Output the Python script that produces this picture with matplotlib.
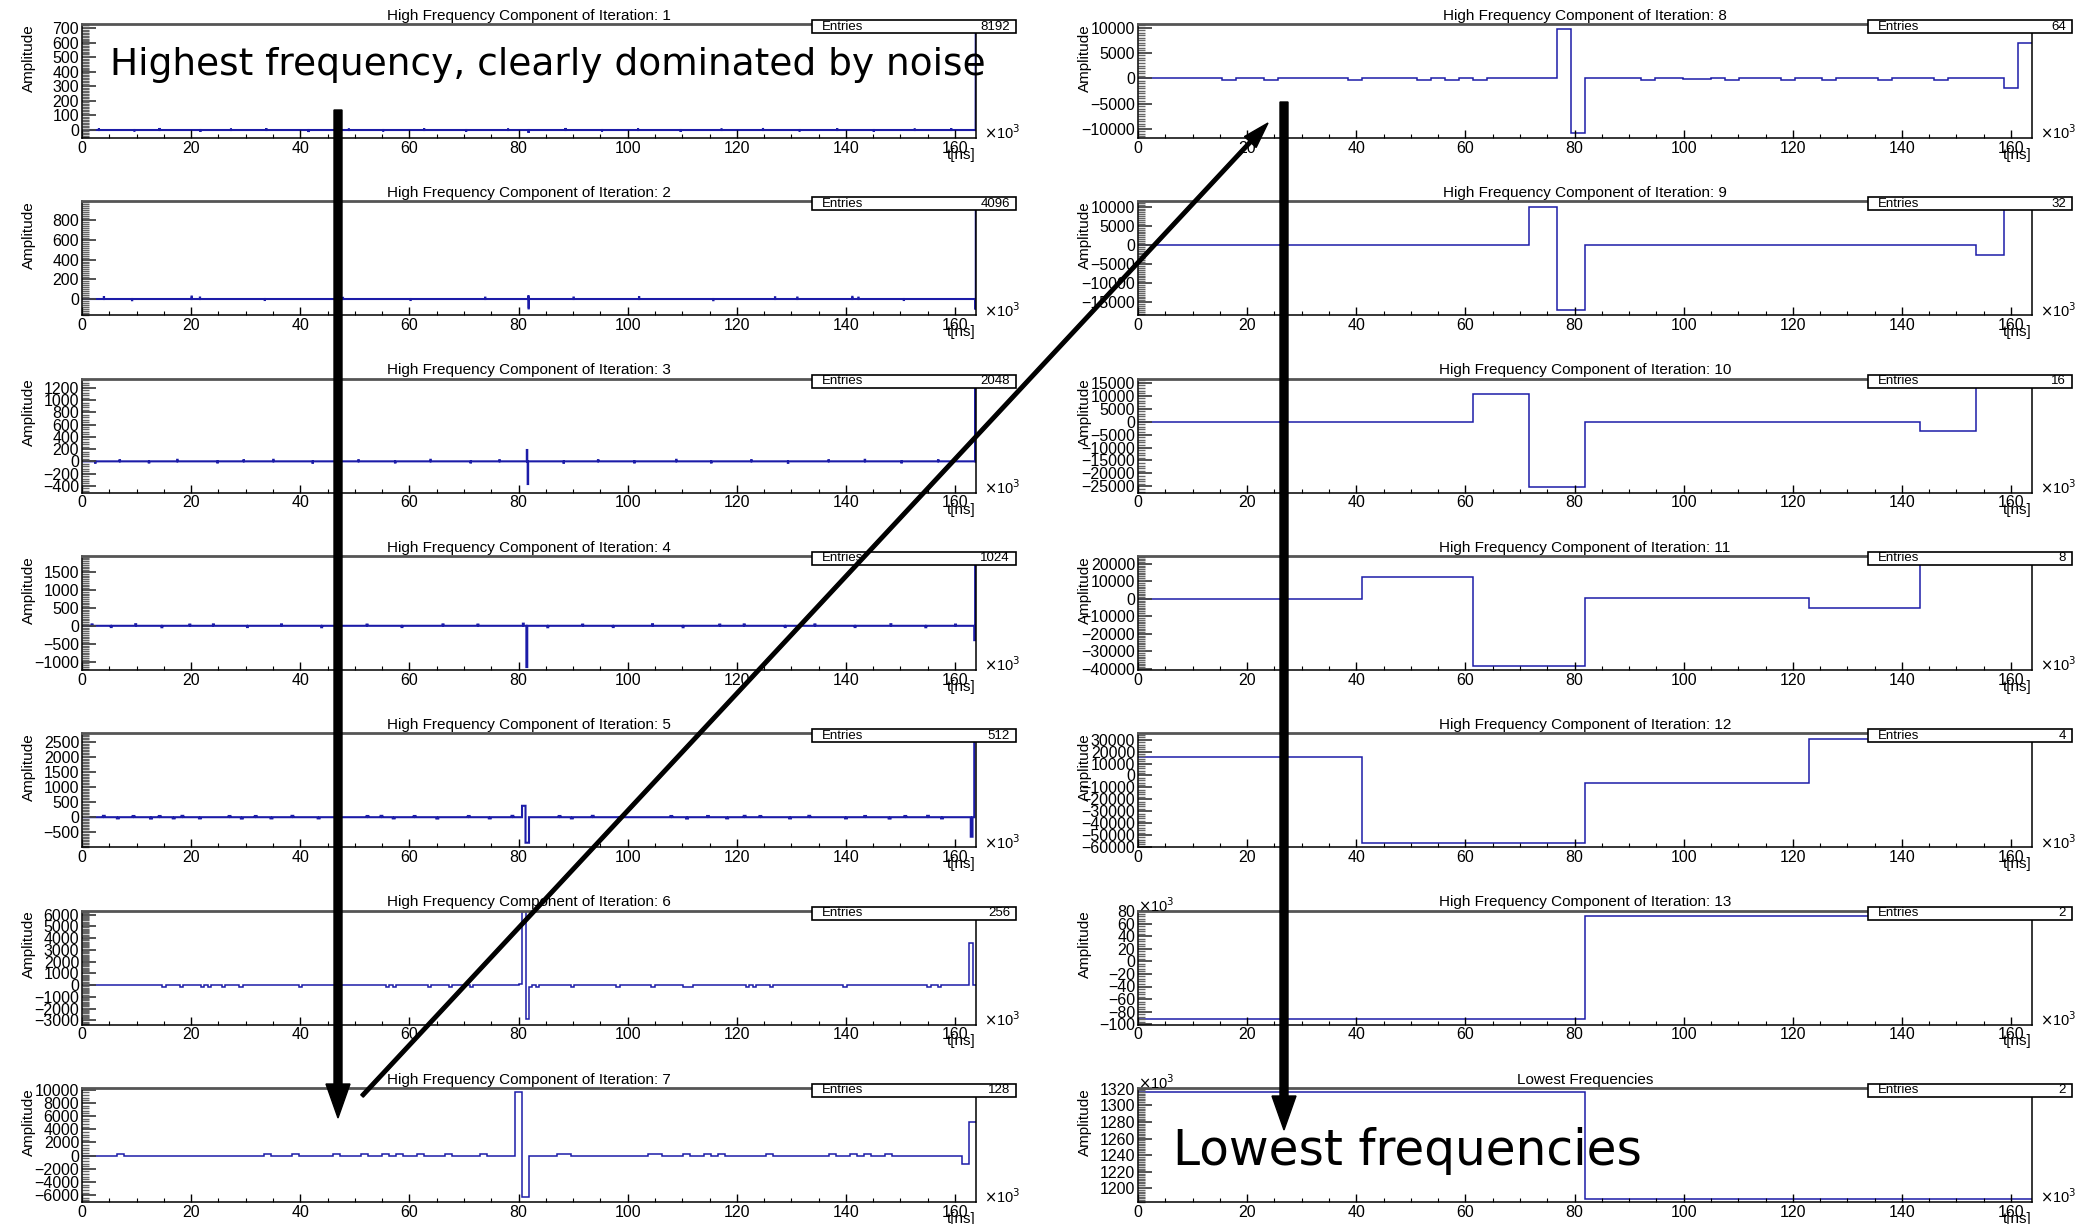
import numpy as np
import matplotlib
matplotlib.use('Agg')
import matplotlib.pyplot as plt
from matplotlib.ticker import FixedLocator, AutoMinorLocator
from matplotlib.patches import Rectangle, FancyArrow

plt.rcParams['font.family'] = ['Liberation Sans', 'DejaVu Sans']

T_MAX = 163.84  # t axis end, in units of 10^3 ns

# ---- panel data ----
titles = ['High Frequency Component of Iteration: %d' % i for i in range(1, 14)] + ['Lowest Frequencies']
entries = [8192, 4096, 2048, 1024, 512, 256, 128, 64, 32, 16, 8, 4, 2, 2]

# y tick labels per panel
yticks = [
    [0, 100, 200, 300, 400, 500, 600, 700],
    [0, 200, 400, 600, 800],
    [-400, -200, 0, 200, 400, 600, 800, 1000, 1200],
    [-1000, -500, 0, 500, 1000, 1500],
    [-500, 0, 500, 1000, 1500, 2000, 2500],
    [-3000, -2000, -1000, 0, 1000, 2000, 3000, 4000, 5000, 6000],
    [-6000, -4000, -2000, 0, 2000, 4000, 6000, 8000, 10000],
    [-10000, -5000, 0, 5000, 10000],
    [-15000, -10000, -5000, 0, 5000, 10000],
    [-25000, -20000, -15000, -10000, -5000, 0, 5000, 10000, 15000],
    [-40000, -30000, -20000, -10000, 0, 10000, 20000],
    [-60000, -50000, -40000, -30000, -20000, -10000, 0, 10000, 20000, 30000],
    [-100, -80, -60, -40, -20, 0, 20, 40, 60, 80],
    [1200, 1220, 1240, 1260, 1280, 1300, 1320],
]
yranges = [
    (-55, 730), (-165, 990), (-510, 1350), (-1230, 1950), (-1000, 2800),
    (-3340, 6340), (-7000, 10300), (-11800, 10700), (-18400, 11400),
    (-27400, 16600), (-40600, 24600), (-60300, 35500), (-100.5, 81), (1184, 1321),
]
yminor = [10, 10, 5, 10, 10, 10, 5, 10, 10, 5, 10, 5, 5, 10]

# sparse bin contents: (t position in 10^3 ns, value); all other bins ~ 0
p1_t = [3.1, 9.6, 14.2, 21.7, 27.3, 33.8, 41.5, 48.9, 55.2, 62.7, 70.4, 78.1, 81.85,
        88.6, 95.3, 101.9, 109.7, 117.2, 124.8, 131.5, 138.4, 145.1, 152.6, 159.3, 163.80, 163.82]
p1_v = [12, -10, 14, -12, 10, 12, -14, 10, -10, 12, -12, 10, -20,
        14, -10, 12, -12, 10, 14, -10, 12, -12, 10, 12, -30, 720]
p2_t = [4.0, 9.2, 20.1, 21.6, 33.5, 47.8, 60.2, 73.9, 81.80, 81.84, 90.1, 102.1,
        115.7, 127.0, 131.1, 141.2, 142.3, 150.6, 163.76, 163.80]
p2_v = [20, -12, 25, 15, -10, 12, -10, 14, 30, -95, 15, 20,
        -12, 18, 15, 22, 14, -10, -100, 950]
p3_t = [2.4, 6.9, 12.3, 17.5, 24.8, 29.6, 35.1, 42.3, 50.7, 57.4, 63.9, 71.2, 76.5,
        81.60, 81.68, 88.3, 94.6, 101.2, 108.9, 115.3, 122.7, 129.4, 136.8, 143.5,
        150.2, 156.9, 163.68, 163.76]
p3_v = [-25, 20, -20, 25, -20, 20, 25, -25, 20, -20, 25, -20, 20,
        185, -370, -25, 20, -20, 25, -20, 20, -25, 20, 25,
        -20, 20, -220, 1250]
p4_t = [1.9, 5.3, 9.8, 14.6, 19.7, 24.1, 30.3, 36.6, 43.9, 52.2, 58.7, 66.1, 72.5,
        80.90, 81.44, 81.60, 85.4, 91.8, 97.3, 104.6, 110.2, 116.9, 121.4, 128.8,
        134.3, 141.7, 148.2, 154.6, 160.1, 163.52, 163.68]
p4_v = [40, -35, 45, -40, 35, 40, -35, 40, -40, 35, -35, 40, 35,
        60, 950, -1150, -40, 35, -35, 45, -40, 35, 40, -35,
        40, -35, 45, -40, 35, -400, 1800]
p5_t = [4.0, 6.4, 9.4, 12.5, 14.3, 16.7, 18.5, 21.5, 27.0, 29.4, 31.8, 34.8, 38.5,
        43.3, 52.4, 54.8, 57.2, 60.8, 65.0, 71.0, 74.7, 79.0, 80.7, 81.0, 81.35, 81.65,
        87.4, 89.8, 93.5, 98.3, 108.0, 111.0, 114.6, 118.3, 121.3, 124.3, 129.7,
        133.4, 140.0, 143.6, 147.9, 151.0, 155.0, 157.5, 163.20, 163.52]
p5_v = [45, -40, 40, -45, 40, -40, 45, -40, 40, -45, 40, -40, 45,
        -40, 40, 45, -40, 40, -45, 40, -40, 45, 380, 380, -850, -850,
        40, -40, 45, -40, 40, -45, 40, -40, 45, 40, -40,
        45, -40, 40, -45, 40, 45, -40, -650, 2600]
p6_t = [14.72, 18.0, 22.1, 23.3, 25.9, 29.1, 39.9, 55.9, 57.1, 63.6, 67.3, 71.1, 80.0,
        80.64, 81.28, 82.3, 83.7, 89.6, 98.0, 104.6, 110.1, 110.8, 111.4, 122.0, 123.0,
        126.2, 140.0, 155.4, 156.8, 162.56, 163.20]
p6_v = [-150, -150, -150, -150, -150, -150, -150, -150, -150, -150, -150, -150, 100,
        6300, -2900, -150, -150, -150, -150, -150, -150, -150, -150, -150, -150,
        -150, -150, -150, -150, -1000, 3600]
p7_t = [6.5, 33.5, 38.5, 46.5, 51.3, 55.1, 58.4, 62.6, 67.8, 74.1, 79.4, 80.7,
        87.1, 88.4, 104.5, 105.7, 111.0, 114.6, 117.0, 126.1, 137.6, 141.8, 144.3,
        147.9, 161.3, 162.6]
p7_v = [200, 200, 200, 200, 200, 200, 200, 200, 200, 200, 9600, -6300,
        200, 200, 200, 200, 200, 200, 200, 200, 200, 200, 200,
        200, -1250, 5100]
p8_t = [15.4, 23.1, 38.5, 51.3, 56.4, 61.5, 76.9, 79.4, 92.2, 99.9, 102.5, 107.6,
        117.8, 125.5, 135.7, 146.0, 158.8, 161.3]
p8_v = [-300, -300, -300, -300, -300, -300, 9700, -10900, -300, -150, -150, -300,
        -300, -300, -300, -300, -2000, 7000]
# coarse panels: every bin listed
p9_v = [0] * 14 + [10000, -16900] + [0] * 14 + [-2700, 10800]
p10_v = [0, 0, 0, 0, 0, 0, 10800, -25300, 0, 0, 0, 0, 0, 0, -3700, 15800]
p11_v = [0, 0, 12800, -38600, 800, 800, -5200, 23400]
p12_v = [15500, -56800, -6400, 30900]
p13_v = [-92.5, 71.6]       # x10^3
p14_v = [1316, 1187]        # x10^3

sparse = [(p1_t, p1_v), (p2_t, p2_v), (p3_t, p3_v), (p4_t, p4_v),
          (p5_t, p5_v), (p6_t, p6_v), (p7_t, p7_v), (p8_t, p8_v)]
full = [p9_v, p10_v, p11_v, p12_v, p13_v, p14_v]


def bin_contents(k):
    n = entries[k]
    if k < len(sparse):
        vals = np.zeros(n)
        w = T_MAX / n
        for t, v in zip(*sparse[k]):
            vals[min(int(t / w), n - 1)] = v
        return vals
    return np.array(full[k - len(sparse)], dtype=float)


# ---- layout (pixels) ----
W, H = 2080, 1224
fig = plt.figure(figsize=(W / 100, H / 100), dpi=100)
col_x = [82, 1138]
ax_w, ax_h = 894, 114
row_top0, row_step = 24, 177.3
line_col = '#1c1ca8'

for k in range(14):
    col, row = divmod(k, 7)
    x0 = col_x[col]
    top = row_top0 + row * row_step
    ax = fig.add_axes([x0 / W, 1 - (top + ax_h) / H, ax_w / W, ax_h / H])
    vals = bin_contents(k)
    edges = np.linspace(0, T_MAX, len(vals) + 1)
    ax.stairs(vals, edges, color=line_col, lw=1.5 if k < 5 else 1.1, baseline=None)
    ax.set_xlim(0, T_MAX)
    ax.set_ylim(*yranges[k])

    ax.xaxis.set_major_locator(FixedLocator([0, 20, 40, 60, 80, 100, 120, 140, 160]))
    ax.xaxis.set_minor_locator(AutoMinorLocator(4))
    ax.yaxis.set_major_locator(FixedLocator(yticks[k]))
    ax.yaxis.set_minor_locator(AutoMinorLocator(yminor[k]))
    ax.tick_params(axis='x', which='major', direction='in', length=6, width=1,
                   labelsize=11.5, pad=2, top=False)
    ax.tick_params(axis='x', which='minor', direction='in', length=3, width=0.8, top=False)
    ax.tick_params(axis='y', which='major', direction='in', length=10, width=1.3,
                   color='#444444', labelsize=11.5, pad=2, right=False)
    ax.tick_params(axis='y', which='minor', direction='in', length=5, width=1.0,
                   color='#666666', right=False)
    for s in ('left', 'bottom', 'right'):
        ax.spines[s].set_color('black')
        ax.spines[s].set_linewidth(1.1)
    ax.spines['top'].set_color('#555555')
    ax.spines['top'].set_linewidth(2)

    ax.set_ylabel('Amplitude', loc='top', fontsize=11)
    ax.yaxis.set_label_coords(-46 / ax_w, 1.0)
    ax.set_title(titles[k], fontsize=11, pad=3)
    ax.text(1.0, -17 / ax_h, 't[ns]', transform=ax.transAxes, ha='right', va='center', fontsize=11)
    ax.text(1.0 + 8 / ax_w, 5 / ax_h, r'$\times$10$^3$', transform=ax.transAxes,
            ha='left', va='center', fontsize=10.5)
    if k >= 12:
        ax.text(0.0, 1.0 + 5 / ax_h, r'$\times$10$^3$', transform=ax.transAxes,
                ha='left', va='center', fontsize=10.5)

# ---- overlay: stat boxes, annotations, arrows (pixel coords) ----
ov = fig.add_axes([0, 0, 1, 1])
ov.set_xlim(0, W)
ov.set_ylim(H, 0)
ov.axis('off')
ov.set_zorder(10)
ov.patch.set_visible(False)

for k in range(14):
    col, row = divmod(k, 7)
    x0 = col_x[col]
    top = row_top0 + row * row_step
    bx0, bx1, by0, by1 = x0 + 730, x0 + 934, top - 4, top + 9
    ov.add_patch(Rectangle((bx0, by0), bx1 - bx0, by1 - by0, facecolor='white',
                           edgecolor='black', lw=1.2))
    ov.text(bx0 + 10, (by0 + by1) / 2, 'Entries', ha='left', va='center', fontsize=9.5)
    ov.text(bx1 - 6, (by0 + by1) / 2, str(entries[k]), ha='right', va='center', fontsize=9.5)

ov.text(110, 65, 'Highest frequency, clearly dominated by noise', family='DejaVu Sans',
        fontsize=27, ha='left', va='center')
ov.text(1173, 1151, 'Lowest frequencies', family='DejaVu Sans',
        fontsize=35, ha='left', va='center')

ov.add_patch(FancyArrow(338, 110, 0, 1118 - 110, width=8, head_width=24, head_length=34,
                        length_includes_head=True, color='black'))
ov.add_patch(FancyArrow(1284, 102, 0, 1130 - 102, width=8, head_width=24, head_length=34,
                        length_includes_head=True, color='black'))
ov.add_patch(FancyArrow(362, 1096, 1268 - 362, 123 - 1096, width=3.5, head_width=16,
                        head_length=26, length_includes_head=True, color='black'))

fig.savefig('out.png', dpi=100, facecolor='white')
